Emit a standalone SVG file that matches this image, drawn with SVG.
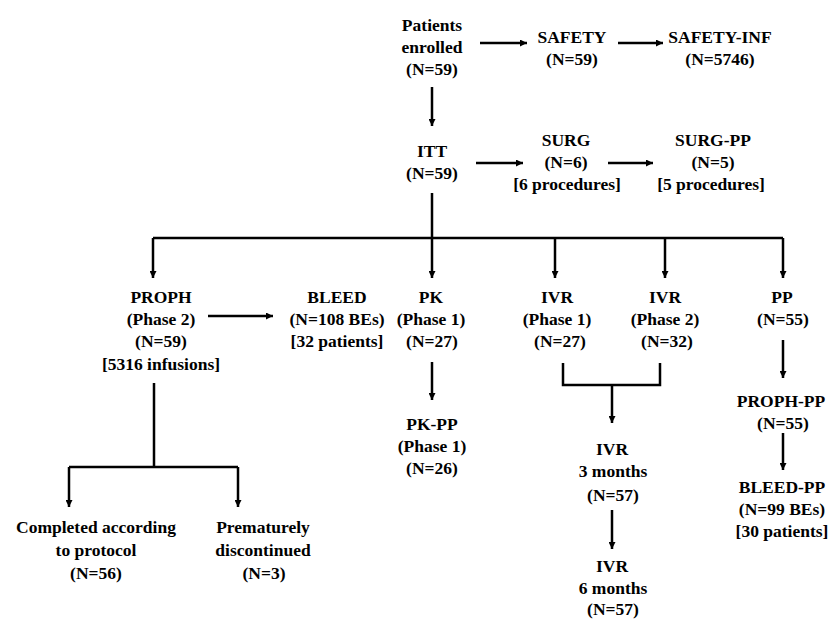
<svg xmlns="http://www.w3.org/2000/svg" width="831" height="619" viewBox="0 0 831 619">
<defs>
<marker id="ah" viewBox="0 0 10 10" refX="10" refY="5" markerWidth="7" markerHeight="7" markerUnits="userSpaceOnUse" orient="auto">
<path d="M0,0 L10,5 L0,10 z" fill="#000"/>
</marker>
<style>
text{font-family:"Liberation Serif","Times New Roman",serif;font-weight:bold;font-size:17.5px;fill:#000;text-anchor:middle}
.c{fill:none;stroke:#000;stroke-width:2.5}
.a{fill:none;stroke:#000;stroke-width:2.5;marker-end:url(#ah)}
</style>
</defs>
<rect width="831" height="619" fill="#fff"/>
<g id="connectors">
<path class="a" d="M480,43 H527"/>
<path class="a" d="M618,43 H663"/>
<path class="a" d="M432,87 V126"/>
<path class="a" d="M476,163 H523"/>
<path class="a" d="M608,163 H653"/>
<path class="c" d="M432,193 V238 M153,238 H783"/>
<path class="a" d="M153,238 V278"/>
<path class="a" d="M432,238 V278"/>
<path class="a" d="M555,238 V278"/>
<path class="a" d="M665,238 V278"/>
<path class="a" d="M783,238 V278"/>
<path class="a" d="M208,316 H273"/>
<path class="a" d="M432,362 V400"/>
<path class="c" d="M563,363 V385 H660 V363"/>
<path class="a" d="M612,385 V423"/>
<path class="a" d="M612,510 V549"/>
<path class="a" d="M783,340 V378"/>
<path class="a" d="M783,433 V470"/>
<path class="c" d="M154,383 V467 M69,467 H238"/>
<path class="a" d="M69,467 V507"/>
<path class="a" d="M238,467 V507"/>
</g>
<g id="enrolled"><text x="432" y="31">Patients</text><text x="432" y="53">enrolled</text><text x="432" y="75">(N=59)</text></g>
<g id="safety"><text x="572" y="43">SAFETY</text><text x="572" y="65">(N=59)</text></g>
<g id="safety-inf"><text x="720" y="43">SAFETY-INF</text><text x="720" y="65">(N=5746)</text></g>
<g id="itt"><text x="432" y="157">ITT</text><text x="432" y="179">(N=59)</text></g>
<g id="surg"><text x="566" y="146">SURG</text><text x="566" y="168">(N=6)</text><text x="567" y="190">[6 procedures]</text></g>
<g id="surg-pp"><text x="713" y="146">SURG-PP</text><text x="713" y="168">(N=5)</text><text x="711" y="190">[5 procedures]</text></g>
<g id="proph"><text x="161" y="303">PROPH</text><text x="161" y="325">(Phase 2)</text><text x="161" y="347">(N=59)</text><text x="161" y="370">[5316 infusions]</text></g>
<g id="bleed"><text x="337" y="303">BLEED</text><text x="337" y="325">(N=108 BEs)</text><text x="337" y="347">[32 patients]</text></g>
<g id="pk"><text x="431" y="303">PK</text><text x="431" y="325">(Phase 1)</text><text x="432" y="347">(N=27)</text></g>
<g id="ivr1"><text x="557" y="303">IVR</text><text x="557" y="325">(Phase 1)</text><text x="560" y="347">(N=27)</text></g>
<g id="ivr2"><text x="665" y="303">IVR</text><text x="665" y="325">(Phase 2)</text><text x="667" y="347">(N=32)</text></g>
<g id="pp"><text x="782" y="303">PP</text><text x="783" y="325">(N=55)</text></g>
<g id="pk-pp"><text x="432" y="430">PK-PP</text><text x="432" y="452">(Phase 1)</text><text x="432" y="474">(N=26)</text></g>
<g id="ivr3"><text x="612" y="455">IVR</text><text x="613" y="477">3 months</text><text x="613" y="501">(N=57)</text></g>
<g id="ivr6"><text x="612" y="572">IVR</text><text x="613" y="594">6 months</text><text x="613" y="615">(N=57)</text></g>
<g id="proph-pp"><text x="781" y="407">PROPH-PP</text><text x="783" y="429">(N=55)</text></g>
<g id="bleed-pp"><text x="782" y="493">BLEED-PP</text><text x="782" y="515">(N=99 BEs)</text><text x="782" y="537">[30 patients]</text></g>
<g id="completed"><text x="96" y="533">Completed according</text><text x="96" y="556">to protocol</text><text x="96" y="579">(N=56)</text></g>
<g id="discontinued"><text x="263" y="533">Prematurely</text><text x="263" y="556">discontinued</text><text x="264" y="579">(N=3)</text></g>
</svg>
